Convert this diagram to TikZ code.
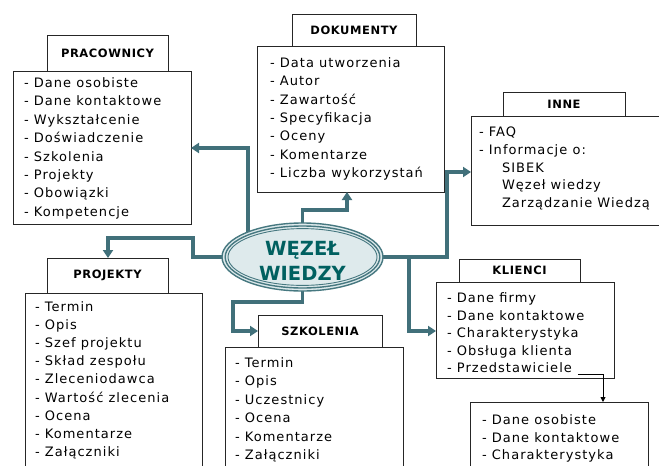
\documentclass[tikz,border=0pt]{standalone}
\usepackage{fontspec}
\setmainfont{DejaVu Sans}
\newfontfamily\bodyf{DejaVu Sans}[LetterSpace=8]
\newfontfamily\headf{DejaVu Sans}[LetterSpace=5]
\usetikzlibrary{arrows.meta,shapes.geometric}
\definecolor{conn}{RGB}{65,112,122}
\definecolor{ellfill}{RGB}{222,234,236}
\definecolor{elltext}{RGB}{0,96,96}
\definecolor{ellline}{RGB}{70,120,128}
\begin{document}
\begin{tikzpicture}[x=1pt,y=-1pt,
  box/.style={draw=black!85,line width=0.9pt,fill=white,anchor=north west,inner sep=0,outer sep=0},
  item/.style={anchor=base west,inner sep=0,outer sep=0,font=\bodyf\fontsize{13}{15}\selectfont},
  head/.style={inner sep=0,font=\headf\bfseries\fontsize{11.5}{13}\selectfont},
  link/.style={draw=conn,line width=3.5pt,-{Triangle[length=8pt,width=10pt]}},
  thinlink/.style={draw=black,line width=0.9pt,-{Triangle[length=5pt,width=5pt]}}
]
\clip (0,0) rectangle (659,466);
\fill[white] (0,0) rectangle (659,466);

% ---------- boxes ----------
% PRACOWNICY
\node[box,minimum width=121pt,minimum height=36pt] (pracT) at (47,35) {};
\node[box,minimum width=178pt,minimum height=153pt] (pracB) at (13,71) {};
\node[head] (pracH) at (pracT.center) {PRACOWNICY};
\foreach \t [count=\i from 0] in {Dane osobiste,Dane kontaktowe,Wykształcenie,Doświadczenie,Szkolenia,Projekty,Obowiązki,Kompetencje}
  \node[item] (pra\i) at (24,{87.5+18.4*\i}) {- \t};

% DOKUMENTY
\node[box,minimum width=124pt,minimum height=32pt] (dokT) at (292,14) {};
\node[box,minimum width=187pt,minimum height=146pt] (dokB) at (257,46) {};
\node[head] (dokH) at (dokT.center) {DOKUMENTY};
\foreach \t [count=\i from 0] in {Data utworzenia,Autor,Zawartość,Specyfikacja,Oceny,Komentarze,Liczba wykorzystań}
  \node[item] (dok\i) at (270,{67.5+18.3*\i}) {- \t};

% INNE
\node[box,minimum width=122pt,minimum height=24pt] (inneT) at (503,92) {};
\node[box,minimum width=199pt,minimum height=109pt] (inneB) at (471,116) {};
\node[head] (inneH) at (inneT.center) {INNE};
\node[item] (inne0) at (479,136.5) {- FAQ};
\node[item] (inne1) at (479,154.3) {- Informacje o:};
\node[item] (inne2) at (502,172.1) {SIBEK};
\node[item] (inne3) at (502,189.9) {Węzeł wiedzy};
\node[item] (inne4) at (502,207.7) {Zarządzanie Wiedzą};

% KLIENCI
\node[box,minimum width=121pt,minimum height=23pt] (kliT) at (459,259) {};
\node[box,minimum width=178pt,minimum height=96pt] (kliB) at (436,282) {};
\node[head] (kliH) at (kliT.center) {KLIENCI};
\foreach \t [count=\i from 0] in {Dane firmy,Dane kontaktowe,Charakterystyka,Obsługa klienta,Przedstawiciele}
  \node[item] (kli\i) at (447,{302.5+17.6*\i}) {- \t};

% sub box (Przedstawiciele)
\node[box,minimum width=178pt,minimum height=80pt] (subB) at (470,402) {};
\foreach \t [count=\i from 0] in {Dane osobiste,Dane kontaktowe,Charakterystyka}
  \node[item] (sub\i) at (482,{424.5+17.5*\i}) {- \t};

% PROJEKTY
\node[box,minimum width=121pt,minimum height=35pt] (proT) at (47,258) {};
\node[box,minimum width=177pt,minimum height=190pt] (proB) at (25,293) {};
\node[head] (proH) at (proT.center) {PROJEKTY};
\foreach \t [count=\i from 0] in {Termin,Opis,Szef projektu,Skład zespołu,Zleceniodawca,Wartość zlecenia,Ocena,Komentarze,Załączniki}
  \node[item] (pro\i) at (35,{311.5+18.1*\i}) {- \t};

% SZKOLENIA
\node[box,minimum width=124pt,minimum height=32pt] (szkT) at (258,315) {};
\node[box,minimum width=178pt,minimum height=130pt] (szkB) at (225,347) {};
\node[head] (szkH) at (szkT.center) {SZKOLENIA};
\foreach \t [count=\i from 0] in {Termin,Opis,Uczestnicy,Ocena,Komentarze,Załączniki}
  \node[item] (szk\i) at (235,{367.5+18.4*\i}) {- \t};

% ---------- bend points ----------
\coordinate (ellc) at (302.5,257);
\coordinate (k1) at (248,148);
\coordinate (k2a) at (303,210);
\coordinate (k2b) at (347,210);
\coordinate (k3) at (447,172);
\coordinate (k4) at (409,331);
\coordinate (k5a) at (193,238);
\coordinate (k5b) at (108,238);
\coordinate (k6a) at (233,302);
\coordinate (k7) at (603,0);

% ---------- connectors ----------
\draw[link] (ellc) -| (k1) -- (k1 -| pracB.east);
\draw[link] (ellc) -- (ellc |- k2a) -- (k2b) -- (k2b |- dokB.south);
\draw[link] (ellc) -| (k3) -- (k3 -| inneB.west);
\draw[link] (ellc) -| (k4) -- (k4 -| kliB.west);
\draw[link] (ellc) -| (k5a) -- (k5b) -- (k5b |- proT.north);
\draw[link] (ellc) |- (k6a) |- (szkT.west);
\draw[thinlink] ([xshift=6pt,yshift=-2pt]kli4.base east) -| (k7 |- subB.north);

% ---------- ellipse ----------
\node[ellipse,draw=ellline,line width=1.4pt,fill=ellfill,minimum width=161pt,minimum height=68pt,inner sep=0] (ell) at (ellc) {};
\draw[ellline,line width=1.4pt] (ell.center) ellipse [x radius=77.3pt, y radius=31pt];
\draw[ellline,line width=0.9pt] (ell.center) ellipse [x radius=74.5pt, y radius=28.4pt];
\node[inner sep=0,align=center,text=elltext,font=\bfseries\fontsize{19.5}{25}\selectfont] (elltxt) at (302.5,261) {WĘZEŁ\\WIEDZY};
\end{tikzpicture}
\end{document}
